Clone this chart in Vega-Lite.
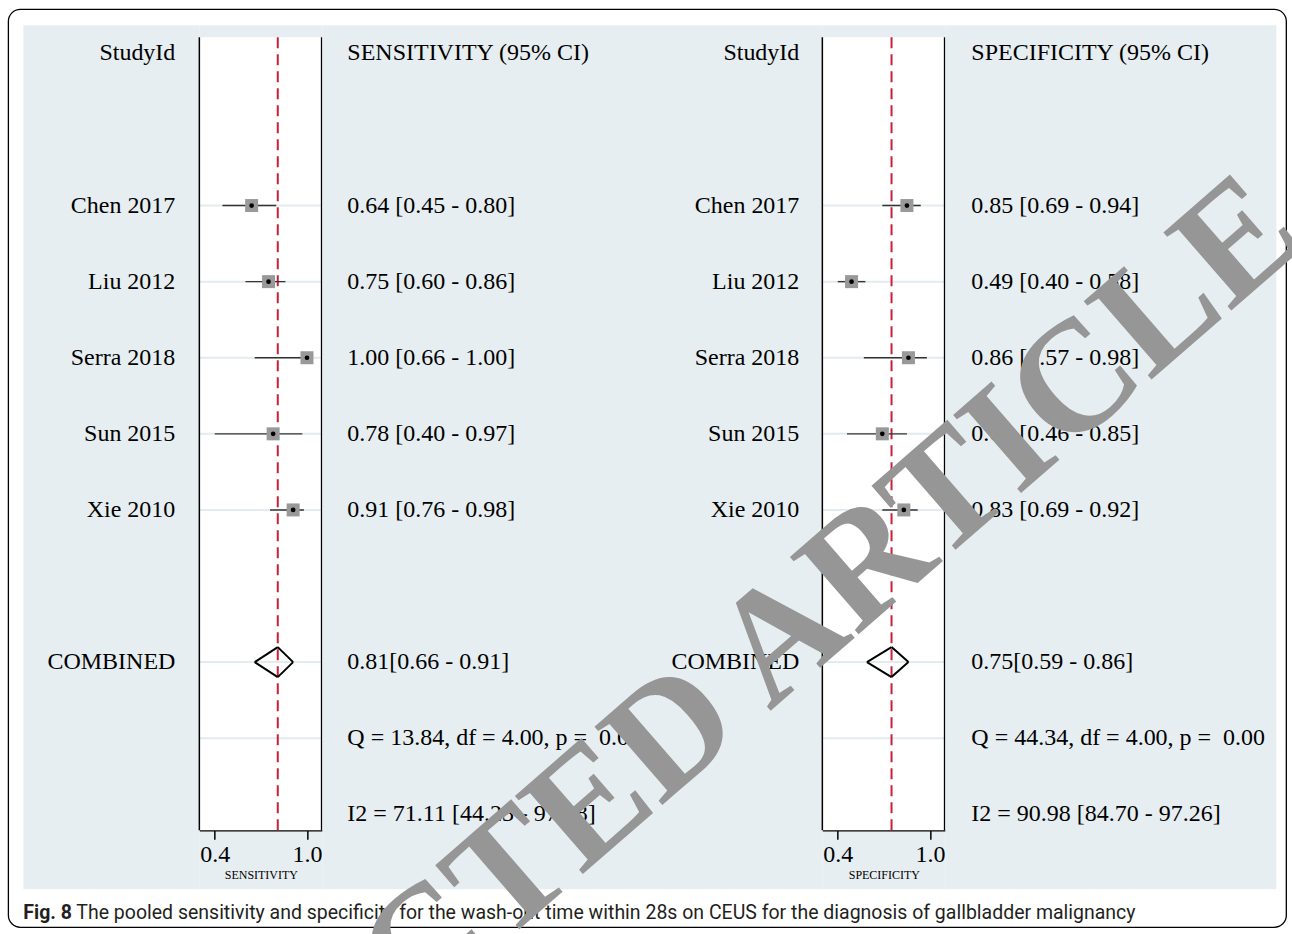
{
  "$schema": "https://vega.github.io/schema/vega-lite/v6.json",
  "background": "white",
  "padding": {"left": -88.65, "top": 8.35, "right": 0, "bottom": 0},
  "config": {
    "view": {"stroke": null, "fill": "#e7eef1"},
    "text": {"font": "Liberation Serif", "fontSize": 24, "color": "black"}
  },
  "datasets": {
    "sens": [
      {"row": 0, "label": "StudyId", "ci": "SENSITIVITY (95% CI)", "kind": "header"},
      {"row": 2, "label": "Chen 2017", "est": 0.64, "lo": 0.45, "hi": 0.80, "ci": "0.64 [0.45 - 0.80]", "kind": "study"},
      {"row": 3, "label": "Liu 2012", "est": 0.75, "lo": 0.60, "hi": 0.86, "ci": "0.75 [0.60 - 0.86]", "kind": "study"},
      {"row": 4, "label": "Serra 2018", "est": 1.00, "lo": 0.66, "hi": 1.00, "ci": "1.00 [0.66 - 1.00]", "kind": "study"},
      {"row": 5, "label": "Sun 2015", "est": 0.78, "lo": 0.40, "hi": 0.97, "ci": "0.78 [0.40 - 0.97]", "kind": "study"},
      {"row": 6, "label": "Xie 2010", "est": 0.91, "lo": 0.76, "hi": 0.98, "ci": "0.91 [0.76 - 0.98]", "kind": "study"},
      {"row": 8, "label": "COMBINED", "est": 0.81, "lo": 0.66, "hi": 0.91, "ci": "\u00a00.81[0.66 - 0.91]", "kind": "combined"},
      {"row": 9, "ci": "Q = 13.84, df = 4.00, p =\u00a0\u00a00.01", "kind": "stat"},
      {"row": 10, "ci": "I2 = 71.11 [44.23 - 97.98]", "kind": "stat"}
    ],
    "spec": [
      {"row": 0, "label": "StudyId", "ci": "SPECIFICITY (95% CI)", "kind": "header"},
      {"row": 2, "label": "Chen 2017", "est": 0.85, "lo": 0.69, "hi": 0.94, "ci": "0.85 [0.69 - 0.94]", "kind": "study"},
      {"row": 3, "label": "Liu 2012", "est": 0.49, "lo": 0.40, "hi": 0.58, "ci": "0.49 [0.40 - 0.58]", "kind": "study"},
      {"row": 4, "label": "Serra 2018", "est": 0.86, "lo": 0.57, "hi": 0.98, "ci": "0.86 [0.57 - 0.98]", "kind": "study"},
      {"row": 5, "label": "Sun 2015", "est": 0.69, "lo": 0.46, "hi": 0.85, "ci": "0.69 [0.46 - 0.85]", "kind": "study"},
      {"row": 6, "label": "Xie 2010", "est": 0.83, "lo": 0.69, "hi": 0.92, "ci": "0.83 [0.69 - 0.92]", "kind": "study"},
      {"row": 8, "label": "COMBINED", "est": 0.75, "lo": 0.59, "hi": 0.86, "ci": "\u00a00.75[0.59 - 0.86]", "kind": "combined"},
      {"row": 9, "ci": "Q = 44.34, df = 4.00, p =\u00a0\u00a00.00", "kind": "stat"},
      {"row": 10, "ci": "I2 = 90.98 [84.70 - 97.26]", "kind": "stat"}
    ],
    "caption": [
      {"fig": "Fig. 8", "text": "The pooled sensitivity and specificity for the wash-out time within 28s on CEUS for the diagnosis of gallbladder malignancy", "watermark": "RETRACTED ARTICLE"}
    ]
  },
  "hconcat": [
    {
      "width": 176, "height": 864,
      "layer": [
        {
          "data": {"values": [{}]},
          "mark": {"type": "rect", "fill": null, "stroke": "black", "strokeWidth": 1.3, "cornerRadius": 12},
          "encoding": {
            "x": {"datum": -0.085, "type": "quantitative", "scale": {"domain": [0, 1], "nice": false, "zero": false}, "axis": null},
            "x2": {"datum": 7.176},
            "y": {"datum": -0.578, "type": "quantitative", "scale": {"domain": [-0.368, 10.986], "reverse": true, "nice": false, "zero": false}, "axis": null},
            "y2": {"datum": 11.485}
          }
        },
        {
          "data": {"name": "sens"},
          "transform": [{"filter": "isValid(datum.label)"}],
          "mark": {"type": "text", "align": "right", "baseline": "middle", "dx": -24},
          "encoding": {
            "x": {"datum": 1, "type": "quantitative", "scale": {"domain": [0, 1], "nice": false, "zero": false}, "axis": null},
            "y": {"field": "row", "type": "quantitative", "scale": {"domain": [-0.368, 10.986], "reverse": true, "nice": false, "zero": false}, "axis": null},
            "text": {"field": "label"}
          }
        },
        {
          "data": {"name": "caption"},
          "mark": {"type": "text", "align": "left", "baseline": "middle", "font": "Roboto", "fontSize": 19.5, "fontWeight": "bold", "color": "#231f20"},
          "encoding": {
            "x": {"datum": 0, "type": "quantitative", "scale": {"domain": [0, 1], "nice": false, "zero": false}, "axis": null},
            "y": {"datum": 11.3, "type": "quantitative", "scale": {"domain": [-0.368, 10.986], "reverse": true, "nice": false, "zero": false}, "axis": null},
            "text": {"field": "fig"}
          }
        },
        {
          "data": {"name": "caption"},
          "mark": {"type": "text", "align": "left", "baseline": "middle", "font": "Roboto", "fontSize": 19.5, "color": "#231f20", "dx": 53},
          "encoding": {
            "x": {"datum": 0, "type": "quantitative", "scale": {"domain": [0, 1], "nice": false, "zero": false}, "axis": null},
            "y": {"datum": 11.3, "type": "quantitative", "scale": {"domain": [-0.368, 10.986], "reverse": true, "nice": false, "zero": false}, "axis": null},
            "text": {"field": "text"}
          }
        }
      ]
    },
    {
      "width": 123, "height": 864,
      "layer": [
        {
          "data": {"values": [{}]},
          "mark": {"type": "rect", "fill": "white"},
          "encoding": {
            "x": {"datum": 0.3, "type": "quantitative", "scale": {"domain": [0.3, 1.1], "nice": false, "zero": false},
              "axis": {"values": [0.4, 1.0], "format": ".1f", "title": "SENSITIVITY", "offset": -59, "grid": false,
                "domainColor": "black", "domainWidth": 1.5, "tickColor": "black", "tickWidth": 1.5, "tickSize": 9,
                "labelFont": "Liberation Serif", "labelFontSize": 24, "labelColor": "black", "labelPadding": 3,
                "titleFont": "Liberation Serif", "titleFontSize": 12, "titleFontWeight": "normal", "titleColor": "black", "titlePadding": 3}},
            "x2": {"datum": 1.1},
            "y": {"datum": -0.21, "type": "quantitative", "scale": {"domain": [-0.368, 10.986], "reverse": true, "nice": false, "zero": false}, "axis": null},
            "y2": {"datum": 10.21}
          }
        },
        {
          "data": {"name": "sens"},
          "transform": [{"filter": "datum.row >= 2 && datum.row <= 9"}],
          "mark": {"type": "rule", "color": "#e2ebee", "strokeWidth": 2},
          "encoding": {"y": {"field": "row", "type": "quantitative", "axis": null}}
        },
        {
          "data": {"name": "sens"},
          "transform": [{"filter": "datum.kind == 'combined'"}],
          "mark": {"type": "rule", "color": "#c8203a", "strokeWidth": 2, "strokeDash": [11, 6]},
          "encoding": {
            "x": {"field": "est", "type": "quantitative"},
            "y": {"datum": -0.21, "type": "quantitative", "axis": null},
            "y2": {"datum": 10.21}
          }
        },
        {
          "data": {"name": "sens"},
          "transform": [{"filter": "datum.kind == 'study'"}],
          "mark": {"type": "rule", "color": "#333333", "strokeWidth": 1.4},
          "encoding": {
            "x": {"field": "lo", "type": "quantitative"},
            "x2": {"field": "hi"},
            "y": {"field": "row", "type": "quantitative", "axis": null}
          }
        },
        {
          "data": {"name": "sens"},
          "transform": [{"filter": "datum.kind == 'study'"}],
          "mark": {"type": "point", "shape": "square", "filled": true, "size": 169, "color": "#999999", "opacity": 1},
          "encoding": {
            "x": {"field": "est", "type": "quantitative"},
            "y": {"field": "row", "type": "quantitative", "axis": null}
          }
        },
        {
          "data": {"name": "sens"},
          "transform": [{"filter": "datum.kind == 'study'"}],
          "mark": {"type": "circle", "size": 22, "color": "black", "opacity": 1},
          "encoding": {
            "x": {"field": "est", "type": "quantitative"},
            "y": {"field": "row", "type": "quantitative", "axis": null}
          }
        },
        {
          "data": {"name": "sens"},
          "transform": [{"filter": "datum.kind == 'combined'"}],
          "layer": [
            {"mark": {"type": "rule", "color": "black", "strokeWidth": 2, "y2Offset": -15},
             "encoding": {"x": {"field": "lo", "type": "quantitative"}, "x2": {"field": "est"}, "y": {"field": "row", "type": "quantitative", "axis": null}, "y2": {"field": "row"}}},
            {"mark": {"type": "rule", "color": "black", "strokeWidth": 2, "y2Offset": 15},
             "encoding": {"x": {"field": "lo", "type": "quantitative"}, "x2": {"field": "est"}, "y": {"field": "row", "type": "quantitative", "axis": null}, "y2": {"field": "row"}}},
            {"mark": {"type": "rule", "color": "black", "strokeWidth": 2, "yOffset": -15},
             "encoding": {"x": {"field": "est", "type": "quantitative"}, "x2": {"field": "hi"}, "y": {"field": "row", "type": "quantitative", "axis": null}, "y2": {"field": "row"}}},
            {"mark": {"type": "rule", "color": "black", "strokeWidth": 2, "yOffset": 15},
             "encoding": {"x": {"field": "est", "type": "quantitative"}, "x2": {"field": "hi"}, "y": {"field": "row", "type": "quantitative", "axis": null}, "y2": {"field": "row"}}}
          ]
        },
        {
          "data": {"values": [{}]},
          "layer": [
            {"mark": {"type": "rule", "color": "black", "strokeWidth": 1.5},
             "encoding": {"x": {"datum": 0.3, "type": "quantitative"}, "y": {"datum": -0.21, "type": "quantitative", "axis": null}, "y2": {"datum": 10.21}}},
            {"mark": {"type": "rule", "color": "black", "strokeWidth": 1.5, "xOffset": -0.75},
             "encoding": {"x": {"datum": 1.1, "type": "quantitative"}, "y": {"datum": -0.21, "type": "quantitative", "axis": null}, "y2": {"datum": 10.21}}}
          ]
        }
      ]
    },
    {
      "width": 500, "height": 864,
      "layer": [
        {
          "data": {"name": "sens"},
          "transform": [{"filter": "isValid(datum.ci)"}],
          "mark": {"type": "text", "align": "left", "baseline": "middle", "dx": 25},
          "encoding": {
            "x": {"datum": 0, "type": "quantitative", "scale": {"domain": [0, 1], "nice": false, "zero": false}, "axis": null},
            "y": {"field": "row", "type": "quantitative", "scale": {"domain": [-0.368, 10.986], "reverse": true, "nice": false, "zero": false}, "axis": null},
            "text": {"field": "ci"}
          }
        },
        {
          "data": {"name": "spec"},
          "transform": [{"filter": "isValid(datum.label)"}],
          "mark": {"type": "text", "align": "right", "baseline": "middle", "dx": -23},
          "encoding": {
            "x": {"datum": 1, "type": "quantitative", "axis": null},
            "y": {"field": "row", "type": "quantitative", "axis": null},
            "text": {"field": "label"}
          }
        }
      ]
    },
    {
      "width": 123, "height": 864,
      "layer": [
        {
          "data": {"values": [{}]},
          "mark": {"type": "rect", "fill": "white"},
          "encoding": {
            "x": {"datum": 0.3, "type": "quantitative", "scale": {"domain": [0.3, 1.1], "nice": false, "zero": false},
              "axis": {"values": [0.4, 1.0], "format": ".1f", "title": "SPECIFICITY", "offset": -59, "grid": false,
                "domainColor": "black", "domainWidth": 1.5, "tickColor": "black", "tickWidth": 1.5, "tickSize": 9,
                "labelFont": "Liberation Serif", "labelFontSize": 24, "labelColor": "black", "labelPadding": 3,
                "titleFont": "Liberation Serif", "titleFontSize": 12, "titleFontWeight": "normal", "titleColor": "black", "titlePadding": 3}},
            "x2": {"datum": 1.1},
            "y": {"datum": -0.21, "type": "quantitative", "scale": {"domain": [-0.368, 10.986], "reverse": true, "nice": false, "zero": false}, "axis": null},
            "y2": {"datum": 10.21}
          }
        },
        {
          "data": {"name": "spec"},
          "transform": [{"filter": "datum.row >= 2 && datum.row <= 9"}],
          "mark": {"type": "rule", "color": "#e2ebee", "strokeWidth": 2},
          "encoding": {"y": {"field": "row", "type": "quantitative", "axis": null}}
        },
        {
          "data": {"name": "spec"},
          "transform": [{"filter": "datum.kind == 'combined'"}],
          "mark": {"type": "rule", "color": "#c8203a", "strokeWidth": 2, "strokeDash": [11, 6]},
          "encoding": {
            "x": {"field": "est", "type": "quantitative"},
            "y": {"datum": -0.21, "type": "quantitative", "axis": null},
            "y2": {"datum": 10.21}
          }
        },
        {
          "data": {"name": "spec"},
          "transform": [{"filter": "datum.kind == 'study'"}],
          "mark": {"type": "rule", "color": "#333333", "strokeWidth": 1.4},
          "encoding": {
            "x": {"field": "lo", "type": "quantitative"},
            "x2": {"field": "hi"},
            "y": {"field": "row", "type": "quantitative", "axis": null}
          }
        },
        {
          "data": {"name": "spec"},
          "transform": [{"filter": "datum.kind == 'study'"}],
          "mark": {"type": "point", "shape": "square", "filled": true, "size": 169, "color": "#999999", "opacity": 1},
          "encoding": {
            "x": {"field": "est", "type": "quantitative"},
            "y": {"field": "row", "type": "quantitative", "axis": null}
          }
        },
        {
          "data": {"name": "spec"},
          "transform": [{"filter": "datum.kind == 'study'"}],
          "mark": {"type": "circle", "size": 22, "color": "black", "opacity": 1},
          "encoding": {
            "x": {"field": "est", "type": "quantitative"},
            "y": {"field": "row", "type": "quantitative", "axis": null}
          }
        },
        {
          "data": {"name": "spec"},
          "transform": [{"filter": "datum.kind == 'combined'"}],
          "layer": [
            {"mark": {"type": "rule", "color": "black", "strokeWidth": 2, "y2Offset": -15},
             "encoding": {"x": {"field": "lo", "type": "quantitative"}, "x2": {"field": "est"}, "y": {"field": "row", "type": "quantitative", "axis": null}, "y2": {"field": "row"}}},
            {"mark": {"type": "rule", "color": "black", "strokeWidth": 2, "y2Offset": 15},
             "encoding": {"x": {"field": "lo", "type": "quantitative"}, "x2": {"field": "est"}, "y": {"field": "row", "type": "quantitative", "axis": null}, "y2": {"field": "row"}}},
            {"mark": {"type": "rule", "color": "black", "strokeWidth": 2, "yOffset": -15},
             "encoding": {"x": {"field": "est", "type": "quantitative"}, "x2": {"field": "hi"}, "y": {"field": "row", "type": "quantitative", "axis": null}, "y2": {"field": "row"}}},
            {"mark": {"type": "rule", "color": "black", "strokeWidth": 2, "yOffset": 15},
             "encoding": {"x": {"field": "est", "type": "quantitative"}, "x2": {"field": "hi"}, "y": {"field": "row", "type": "quantitative", "axis": null}, "y2": {"field": "row"}}}
          ]
        },
        {
          "data": {"values": [{}]},
          "layer": [
            {"mark": {"type": "rule", "color": "black", "strokeWidth": 1.5},
             "encoding": {"x": {"datum": 0.3, "type": "quantitative"}, "y": {"datum": -0.21, "type": "quantitative", "axis": null}, "y2": {"datum": 10.21}}},
            {"mark": {"type": "rule", "color": "black", "strokeWidth": 1.5, "xOffset": -0.75},
             "encoding": {"x": {"datum": 1.1, "type": "quantitative"}, "y": {"datum": -0.21, "type": "quantitative", "axis": null}, "y2": {"datum": 10.21}}}
          ]
        }
      ]
    },
    {
      "width": 331, "height": 864,
      "layer": [
        {
          "data": {"name": "spec"},
          "transform": [{"filter": "isValid(datum.ci)"}],
          "mark": {"type": "text", "align": "left", "baseline": "middle", "dx": 26},
          "encoding": {
            "x": {"datum": 0, "type": "quantitative", "scale": {"domain": [0, 1], "nice": false, "zero": false}, "axis": null},
            "y": {"field": "row", "type": "quantitative", "scale": {"domain": [-0.368, 10.986], "reverse": true, "nice": false, "zero": false}, "axis": null},
            "text": {"field": "ci"}
          }
        },
        {
          "data": {"name": "caption"},
          "mark": {"type": "text", "align": "center", "baseline": "middle", "font": "Liberation Serif", "fontSize": 158, "fontWeight": "bold", "color": "#969696", "angle": -41},
          "encoding": {
            "x": {"datum": -0.9758, "type": "quantitative", "scale": {"domain": [0, 1], "nice": false, "zero": false}, "axis": null},
            "y": {"datum": 9.514, "type": "quantitative", "scale": {"domain": [-0.368, 10.986], "reverse": true, "nice": false, "zero": false}, "axis": null},
            "text": {"field": "watermark"}
          }
        }
      ]
    }
  ],
  "spacing": 0,
  "bounds": "flush"
}
